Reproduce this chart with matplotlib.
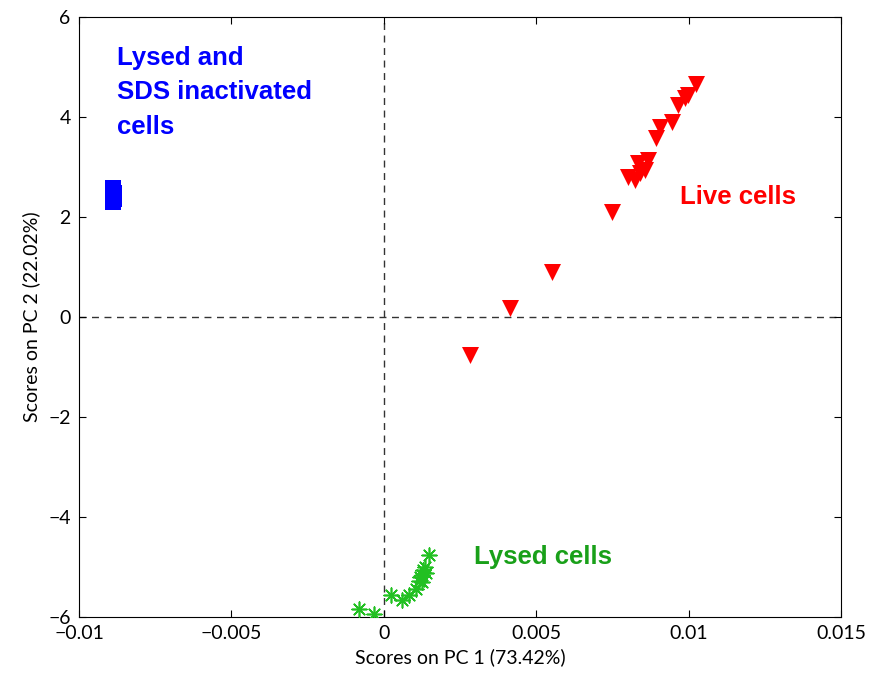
import matplotlib.pyplot as plt
import numpy as np

# scores
live_pc1 = [0.00282, 0.00413, 0.00551, 0.00748, 0.0080, 0.00823, 0.0084, 0.00856, 0.00833,
            0.00866, 0.00892, 0.00905, 0.00945, 0.00965, 0.00987, 0.00997, 0.01026]
live_pc2 = [-0.75, 0.18, 0.9, 2.1, 2.8, 2.74, 2.88, 2.94, 3.08,
            3.14, 3.58, 3.8, 3.9, 4.24, 4.38, 4.44, 4.66]

lysed_pc1 = [-0.00082, -0.00033, 0.00023, 0.00059, 0.00082, 0.00105, 0.00115, 0.00125,
             0.00128, 0.00134, 0.00118, 0.00125, 0.0014, 0.00148]
lysed_pc2 = [-5.84, -5.94, -5.56, -5.66, -5.56, -5.44, -5.28, -5.16,
             -5.06, -5.0, -5.2, -5.3, -5.12, -4.76]

sds_pc1 = [-0.00888, -0.00886, -0.0089, -0.00885, -0.00887, -0.00889, -0.00886]
sds_pc2 = [2.3, 2.36, 2.42, 2.48, 2.54, 2.58, 2.45]

xticks = [-0.01, -0.005, 0, 0.005, 0.01, 0.015]
xticklabels = ['\u22120.01', '\u22120.005', '0', '0.005', '0.01', '0.015']
yticks = [-6, -4, -2, 0, 2, 4, 6]
yticklabels = ['\u22126', '\u22124', '\u22122', '0', '2', '4', '6']

fig = plt.figure(figsize=(8.71, 6.82), dpi=100)
ax = fig.add_axes([0.0907, 0.0953, 0.8748, 0.8797])

ax.axvline(0, color='#333333', linestyle='--', linewidth=1, dashes=(5, 4), zorder=1)
ax.axhline(0, color='#333333', linestyle='--', linewidth=1, dashes=(5, 4), zorder=1)

ax.scatter(live_pc1, live_pc2, marker='v', s=150, color='#ff0000', linewidths=0, zorder=3)
ax.scatter(lysed_pc1, lysed_pc2, marker=(8, 2, 0), s=110, color='#22c022', linewidths=1.2, zorder=3)
ax.scatter(sds_pc1, sds_pc2, marker='s', s=140, color='#0000ff', linewidths=0, zorder=3)

tfont = dict(family='Liberation Sans', fontsize=18.5, fontweight='bold')
ax.text(-0.00876, 5.42, 'Lysed and\nSDS inactivated\ncells', color='#0000ff', va='top',
        ha='left', linespacing=1.55, **tfont)
ax.text(0.00971, 2.4, 'Live cells', color='#ff0000', va='center', ha='left', **tfont)
ax.text(0.00297, -4.8, 'Lysed cells', color='#19a019', va='center', ha='left', **tfont)

ax.set_xlim(-0.01, 0.015)
ax.set_ylim(-6, 6)
ax.set_xticks(xticks)
ax.set_xticklabels(xticklabels)
ax.set_yticks(yticks)
ax.set_yticklabels(yticklabels)
ax.tick_params(direction='in', top=True, right=True, length=5, labelsize=14, pad=6)
for lab in ax.get_xticklabels() + ax.get_yticklabels():
    lab.set_family('Lato')

ax.set_xlabel('Scores on PC 1 (73.42%)', fontsize=14, family='Lato', labelpad=4)
ax.set_ylabel('Scores on PC 2 (22.02%)', fontsize=14, family='Lato', labelpad=6)

plt.savefig('out.png', dpi=100)
